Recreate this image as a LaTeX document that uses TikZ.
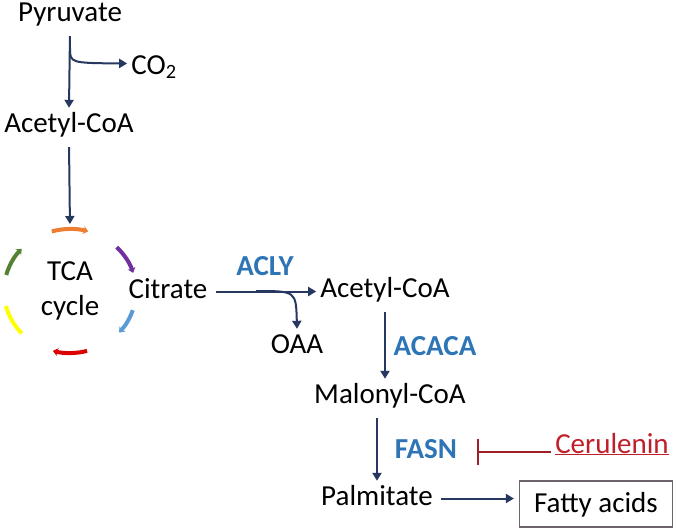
\documentclass[tikz,border=0pt]{standalone}
\usepackage{fontspec}
\setmainfont{Carlito}
\usetikzlibrary{arrows.meta}

\definecolor{pathblue}{RGB}{38,56,96}
\definecolor{enzblue}{RGB}{46,117,182}
\definecolor{drugred}{RGB}{192,30,40}
\definecolor{inhred}{RGB}{160,30,40}
\definecolor{boxgray}{RGB}{110,100,110}
\definecolor{tcaorange}{RGB}{237,125,49}
\definecolor{tcapurple}{RGB}{112,48,160}
\definecolor{tcablue}{RGB}{91,155,213}
\definecolor{tcared}{RGB}{220,0,0}
\definecolor{tcayellow}{RGB}{255,255,0}
\definecolor{tcagreen}{RGB}{84,130,53}

\begin{document}
\begin{tikzpicture}[
    x=1pt, y=-1pt,
    font=\fontsize{29}{35}\selectfont,
    metab/.style={inner sep=4pt, text height=20pt, text depth=7pt, anchor=base},
    enzyme/.style={metab, font=\fontsize{29}{35}\selectfont\bfseries, text=enzblue},
    product/.style={metab, draw=boxgray, line width=1.2pt, text height=22pt, text depth=6pt, minimum width=153pt, minimum height=46pt},
    arrow/.style={-{Triangle[length=8pt,width=9pt]}, line width=2pt, draw=pathblue, shorten <=4pt},
    inhib/.style={-{Bar[width=26pt,line width=2pt]}, line width=2pt, draw=inhred, shorten >=16pt},
    cycarc/.style={line width=4pt, -{Stealth[length=5pt,width=8pt]}}
]
\useasboundingbox (0,0) rectangle (677,531);

\node[metab] (pyruvate) at (70,21) {Pyruvate};
\node[metab] (acoa) at (69,132) {Acetyl-CoA};
\node[metab] (co2) at (154,74) {CO\textsubscript{2}};
\coordinate (cyc) at (70,291);
\node[align=center, inner sep=0pt] (tca) at (cyc) {TCA\\cycle};
\node[metab] (citrate) at (168,298) {Citrate};
\node[metab] (acoa2) at (385,297) {Acetyl-CoA};
\node[metab] (oaa) at (297,353) {OAA};
\node[metab] (malcoa) at (390,403) {Malonyl-CoA};
\node[metab] (palm) at (377,505) {Palmitate};
\node[product] (fatty) at (596,512) {Fatty acids};

\node[enzyme] (acly) at (265,275) {ACLY};
\node[enzyme] (acaca) at (435,355) {ACACA};
\node[enzyme] (fasn) at (426,458) {FASN};
\node[metab, text=drugred] (cerul) at (612,453) {\underline{Cerulenin}};

\coordinate (br1) at (70,44);
\coordinate (br2) at (252,291);
\path (cyc) ++(0,-62) coordinate (ctop);

\draw[arrow] (pyruvate.south) -- (acoa.north);
\draw[arrow] (br1) .. controls (70,63) .. ([yshift=4pt]co2.west);
\draw[arrow, shorten >=5pt] (acoa.south) -- (ctop);
\draw[arrow] (citrate.east) -- (citrate.east -| acoa2.west);
\draw[arrow] (br2) .. controls (296,291) .. (oaa.north);
\draw[arrow] (acoa2.south) -- (acoa2.south |- malcoa.north);
\draw[arrow] (malcoa.south -| palm.north) -- (palm.north);
\draw[arrow, shorten >=5pt] (palm.east) -- (palm.east -| fatty.west);
\draw[inhib] (fasn.east -| cerul.west) -- (fasn.east);

\foreach \s/\e/\c in {-106/-74/tcaorange, -45/-17/tcapurple, 18/42/tcablue, 75/105/tcared, -165/-137/tcagreen}
  \draw[cycarc, draw=\c] (cyc) ++(\s:66 and 62) arc[start angle=\s, end angle=\e, x radius=66, y radius=62];
\draw[line width=4pt, draw=tcayellow] (cyc) ++(137:66 and 62) arc[start angle=137, end angle=166, x radius=66, y radius=62];
\end{tikzpicture}
\end{document}
